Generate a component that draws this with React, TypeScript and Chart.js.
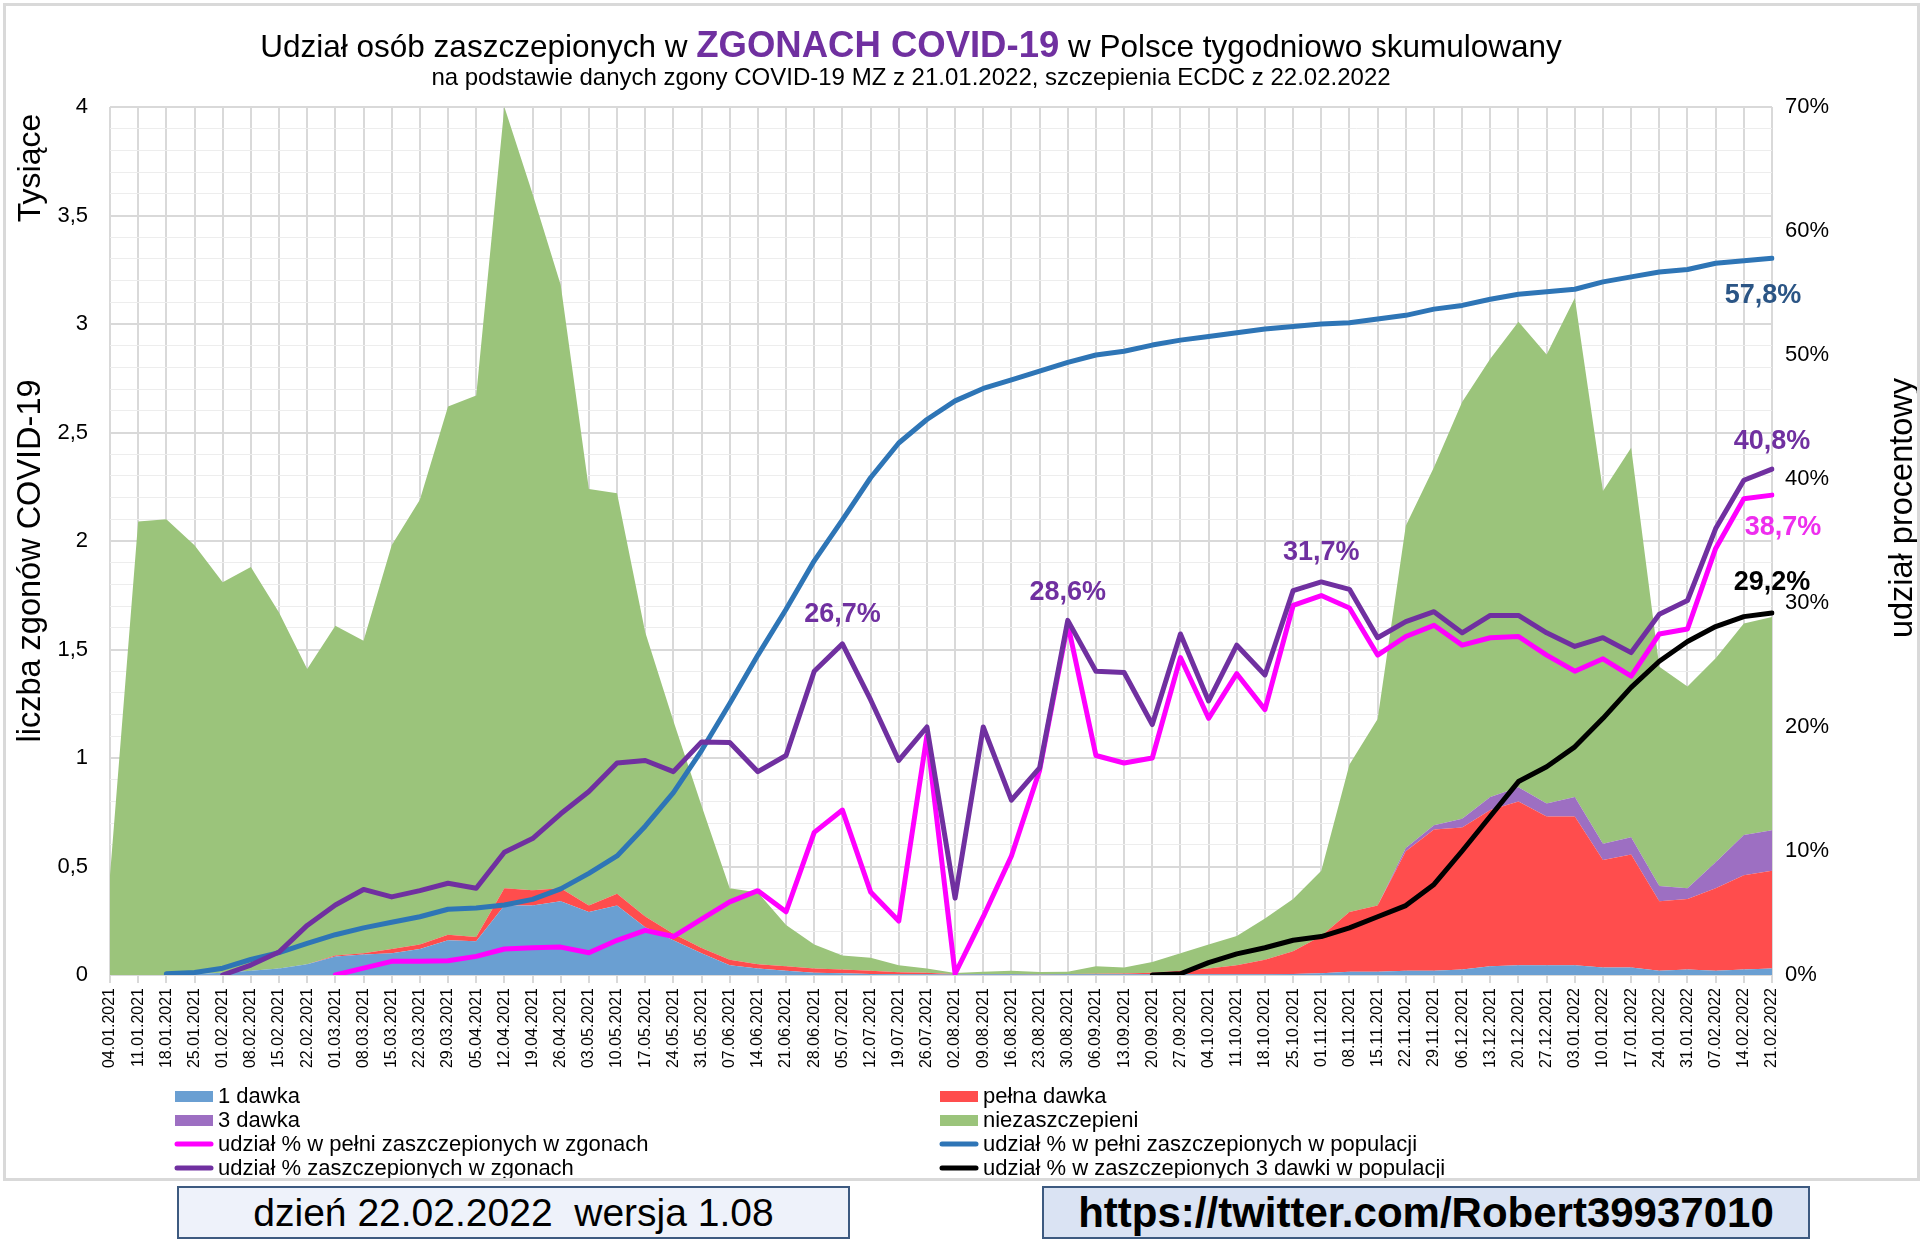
import React, { useEffect, useRef } from "react";
import { Chart, registerables } from "chart.js";

Chart.register(...registerables);

const FONT = '"Liberation Sans", Arial, Helvetica, sans-serif';

// ---------- DATA ----------
const weeks = [
  "04.01.2021", "11.01.2021", "18.01.2021", "25.01.2021", "01.02.2021", "08.02.2021", "15.02.2021", "22.02.2021",
  "01.03.2021", "08.03.2021", "15.03.2021", "22.03.2021", "29.03.2021", "05.04.2021", "12.04.2021", "19.04.2021",
  "26.04.2021", "03.05.2021", "10.05.2021", "17.05.2021", "24.05.2021", "31.05.2021", "07.06.2021", "14.06.2021",
  "21.06.2021", "28.06.2021", "05.07.2021", "12.07.2021", "19.07.2021", "26.07.2021", "02.08.2021", "09.08.2021",
  "16.08.2021", "23.08.2021", "30.08.2021", "06.09.2021", "13.09.2021", "20.09.2021", "27.09.2021", "04.10.2021",
  "11.10.2021", "18.10.2021", "25.10.2021", "01.11.2021", "08.11.2021", "15.11.2021", "22.11.2021", "29.11.2021",
  "06.12.2021", "13.12.2021", "20.12.2021", "27.12.2021", "03.01.2022", "10.01.2022", "17.01.2022", "24.01.2022",
  "31.01.2022", "07.02.2022", "14.02.2022", "21.02.2022",
];

// deaths (thousands), stacked areas
const dawka1 = [
  0, 0, 0, 0.005, 0.01, 0.02, 0.03, 0.05, 0.085, 0.095,
  0.1, 0.12, 0.16, 0.155, 0.32, 0.32, 0.34, 0.29, 0.32, 0.22,
  0.16, 0.1, 0.045, 0.03, 0.02, 0.01, 0.008, 0.005, 0.003, 0.003,
  0.002, 0.003, 0.003, 0.002, 0.003, 0.003, 0.003, 0.003, 0.003, 0.003,
  0.003, 0.003, 0.005, 0.008, 0.015, 0.015, 0.02, 0.02, 0.025, 0.04,
  0.045, 0.045, 0.045, 0.035, 0.035, 0.02, 0.025, 0.02, 0.025, 0.03,
];
const pelnaDawka = [
  0, 0, 0, 0, 0, 0, 0, 0, 0.005, 0.005,
  0.02, 0.02, 0.025, 0.02, 0.08, 0.07, 0.06, 0.03, 0.055, 0.05,
  0.03, 0.025, 0.025, 0.02, 0.02, 0.02, 0.017, 0.015, 0.01, 0.007,
  0.002, 0.002, 0.002, 0.002, 0.002, 0.003, 0.004, 0.007, 0.017, 0.027,
  0.042, 0.067, 0.105, 0.172, 0.275, 0.305, 0.55, 0.65, 0.655, 0.72,
  0.755, 0.685, 0.685, 0.495, 0.52, 0.32, 0.325, 0.38, 0.435, 0.45,
];
const dawka3 = [
  0, 0, 0, 0, 0, 0, 0, 0, 0, 0,
  0, 0, 0, 0, 0, 0, 0, 0, 0, 0,
  0, 0, 0, 0, 0, 0, 0, 0, 0, 0,
  0, 0, 0, 0, 0, 0, 0, 0, 0, 0,
  0, 0, 0, 0, 0, 0, 0.015, 0.02, 0.04, 0.06,
  0.065, 0.06, 0.09, 0.075, 0.08, 0.07, 0.05, 0.12, 0.185, 0.187,
];
const niezaszczepieni = [
  0.46, 2.09, 2.1, 1.975, 1.8, 1.86, 1.64, 1.36, 1.52, 1.44,
  1.86, 2.05, 2.435, 2.495, 3.6, 3.21, 2.78, 1.92, 1.845, 1.31,
  0.98, 0.655, 0.33, 0.33, 0.19, 0.11, 0.065, 0.06, 0.032, 0.02,
  0.005, 0.01, 0.015, 0.01, 0.01, 0.034, 0.028, 0.05, 0.08, 0.11,
  0.135, 0.19, 0.24, 0.3, 0.68, 0.86, 1.485, 1.65, 1.92, 2.02,
  2.145, 2.07, 2.3, 1.625, 1.795, 1.01, 0.93, 0.94, 0.975, 0.983,
];

// percentages (right axis)
const pctPelniZgony = [
  null, null, null, null, null, null, null, null, 0, 0.55,
  1.1, 1.1, 1.15, 1.5, 2.1, 2.2, 2.25, 1.8, 2.8, 3.6,
  3.1, 4.5, 5.9, 6.8, 5.1, 11.5, 13.3, 6.7, 4.35, 19.3,
  0.1, 4.7, 9.6, 16.5, 28.3, 17.7, 17.1, 17.5, 25.6, 20.7,
  24.3, 21.4, 29.8, 30.6, 29.6, 25.8, 27.3, 28.2, 26.6, 27.2,
  27.3, 25.8, 24.5, 25.5, 24.1, 27.5, 27.9, 34.4, 38.4, 38.7,
];
const pctPelniPopulacja = [
  null, null, 0.1, 0.2, 0.55, 1.25, 1.8, 2.55, 3.25, 3.8,
  4.25, 4.7, 5.3, 5.4, 5.65, 6.1, 6.95, 8.2, 9.6, 12.0,
  14.7, 18.1, 21.9, 25.8, 29.5, 33.4, 36.7, 40.1, 42.9, 44.8,
  46.3, 47.3, 48.0, 48.7, 49.4, 50.0, 50.3, 50.8, 51.2, 51.5,
  51.8, 52.1, 52.3, 52.5, 52.6, 52.9, 53.2, 53.7, 54.0, 54.5,
  54.9, 55.1, 55.3, 55.9, 56.3, 56.7, 56.9, 57.4, 57.6, 57.8,
];
const pctZaszczepZgony = [
  null, null, null, null, 0, 0.8, 1.85, 4.0, 5.65, 6.9,
  6.3, 6.8, 7.4, 7.0, 9.9, 11.0, 13.0, 14.8, 17.1, 17.3,
  16.4, 18.8, 18.75, 16.4, 17.7, 24.5, 26.7, 22.2, 17.3, 20.0,
  6.2, 20.0, 14.1, 16.7, 28.6, 24.5, 24.4, 20.2, 27.5, 22.1,
  26.6, 24.2, 31.0, 31.7, 31.1, 27.2, 28.5, 29.3, 27.6, 29.0,
  29.0, 27.6, 26.5, 27.2, 26.0, 29.1, 30.2, 36.0, 39.9, 40.8,
];
const pct3DawkiPopulacja = [
  null, null, null, null, null, null, null, null, null, null,
  null, null, null, null, null, null, null, null, null, null,
  null, null, null, null, null, null, null, null, null, null,
  null, null, null, null, null, null, null, 0, 0.1, 1.0,
  1.7, 2.2, 2.8, 3.1, 3.8, 4.7, 5.6, 7.3, 10.0, 12.8,
  15.6, 16.8, 18.4, 20.7, 23.2, 25.3, 26.9, 28.1, 28.9, 29.2,
];

// which points carry a value label: [dataset index, category index]
const labelledPoints: [number, number][] = [
  [2, 26], [2, 34], [2, 43], [2, 59], [0, 59], [3, 59], [1, 59],
];

// ---------- STYLE ----------
const labelStyle: Record<string, { color: string; dx: number; dy: number }> = {
  "2-26": { color: "#7030A0", dx: 0, dy: -29 },
  "2-34": { color: "#7030A0", dx: 0, dy: -28 },
  "2-43": { color: "#7030A0", dx: 0, dy: -29 },
  "2-59": { color: "#7030A0", dx: 0, dy: -28 },
  "0-59": { color: "#EE2EEE", dx: 11, dy: 32 },
  "3-59": { color: "#000000", dx: 0, dy: -30 },
  "1-59": { color: "#2B5585", dx: -9, dy: 37 },
};

const legendRows: [number, number][] = [
  [4, 5],
  [6, 7],
  [0, 1],
  [2, 3],
];

const fmtPct = (v: number) => v.toFixed(1).replace(".", ",") + "%";

const decorPlugin = {
  id: "decor",
  afterDatasetsDraw(chart: any) {
    const ctx = chart.ctx as CanvasRenderingContext2D;
    const y1 = chart.scales.y1;
    const x = chart.scales.x;
    ctx.save();
    ctx.font = `bold 27px ${FONT}`;
    ctx.textAlign = "center";
    ctx.textBaseline = "middle";
    for (const [di, idx] of labelledPoints) {
      const v = chart.data.datasets[di].data[idx] as number;
      const st = labelStyle[`${di}-${idx}`];
      const px = x.getPixelForValue(idx) + st.dx;
      const py = y1.getPixelForValue(v) + st.dy;
      ctx.fillStyle = st.color;
      ctx.fillText(fmtPct(v), px, py);
    }
    ctx.restore();
  },
  afterDraw(chart: any) {
    const ctx = chart.ctx as CanvasRenderingContext2D;
    ctx.save();
    // Title
    const p1 = "Udział osób zaszczepionych w ";
    const p2 = "ZGONACH COVID-19";
    const p3 = " w Polsce tygodniowo skumulowany";
    const fReg = `31.5px ${FONT}`;
    const fBold = `bold 36.5px ${FONT}`;
    ctx.textBaseline = "alphabetic";
    ctx.textAlign = "left";
    ctx.font = fReg;
    const w1 = ctx.measureText(p1).width;
    const w3 = ctx.measureText(p3).width;
    ctx.font = fBold;
    const w2 = ctx.measureText(p2).width;
    let tx = 911 - (w1 + w2 + w3) / 2;
    const ty = 57;
    ctx.fillStyle = "#000";
    ctx.font = fReg;
    ctx.fillText(p1, tx, ty);
    tx += w1;
    ctx.font = fBold;
    ctx.fillStyle = "#7030A0";
    ctx.fillText(p2, tx, ty);
    tx += w2;
    ctx.font = fReg;
    ctx.fillStyle = "#000";
    ctx.fillText(p3, tx, ty);
    // Subtitle
    ctx.font = `24px ${FONT}`;
    ctx.textAlign = "center";
    ctx.fillText("na podstawie danych zgony COVID-19 MZ z 21.01.2022, szczepienia ECDC z 22.02.2022", 911, 85);

    // Axis titles
    const vText = (t: string, cx: number, cy: number, font: string) => {
      ctx.save();
      ctx.translate(cx, cy);
      ctx.rotate(-Math.PI / 2);
      ctx.font = font;
      ctx.textAlign = "center";
      ctx.textBaseline = "middle";
      ctx.fillStyle = "#000";
      ctx.fillText(t, 0, 0);
      ctx.restore();
    };
    vText("Tysiące", 31, 168, `32px ${FONT}`);
    vText("liczba zgonów COVID-19", 31, 561, `32.5px ${FONT}`);
    vText("udział procentowy", 1903, 508, `32.5px ${FONT}`);

    // Legend
    const colX = [[175, 218], [940, 983]];
    const rowY = [1096, 1120, 1144, 1168];
    ctx.font = `22px ${FONT}`;
    ctx.textAlign = "left";
    ctx.textBaseline = "middle";
    legendRows.forEach((row, r) => {
      row.forEach((di, c) => {
        const ds = chart.data.datasets[di];
        const [mx, tx2] = colX[c];
        const cy = rowY[r];
        if (ds.fill) {
          ctx.fillStyle = ds.backgroundColor;
          ctx.fillRect(mx, cy - 5, 38, 11);
        } else {
          ctx.strokeStyle = ds.borderColor;
          ctx.lineWidth = 5;
          ctx.lineCap = "round";
          ctx.beginPath();
          ctx.moveTo(mx + 2, cy);
          ctx.lineTo(mx + 36, cy);
          ctx.stroke();
        }
        ctx.fillStyle = "#000";
        ctx.fillText(ds.label, tx2, cy + 1);
      });
    });
    ctx.restore();
  },
};

export default function App() {
  const ref = useRef<HTMLCanvasElement>(null);

  useEffect(() => {
    const lineDs = (label: string, data: (number | null)[], color: string, order: number) => ({
      type: "line" as const,
      label,
      data,
      yAxisID: "y1",
      borderColor: color,
      backgroundColor: color,
      borderWidth: 5,
      pointRadius: 0,
      tension: 0,
      fill: false,
      borderJoinStyle: "round" as const,
      borderCapStyle: "round" as const,
      order,
    });
    const areaDs = (label: string, data: number[], color: string, fill: string) => ({
      type: "line" as const,
      label,
      data,
      yAxisID: "y",
      borderColor: "rgba(0,0,0,0)",
      backgroundColor: color,
      borderWidth: 0,
      pointRadius: 0,
      tension: 0,
      fill,
      order: 4,
    });

    const chart = new Chart(ref.current as HTMLCanvasElement, {
      type: "line",
      data: {
        labels: weeks,
        datasets: [
          lineDs("udział % w pełni zaszczepionych w zgonach", pctPelniZgony, "#FF00FF", 3),
          lineDs("udział % w pełni zaszczepionych w populacji", pctPelniPopulacja, "#2E75B6", 2),
          lineDs("udział % zaszczepionych w zgonach", pctZaszczepZgony, "#7030A0", 1),
          lineDs("udział % w zaszczepionych 3 dawki w populacji", pct3DawkiPopulacja, "#000000", 0),
          areaDs("1 dawka", dawka1, "#6A9FD2", "origin"),
          areaDs("pełna dawka", pelnaDawka, "#FF4D4D", "-1"),
          areaDs("3 dawka", dawka3, "#9D6FC2", "-1"),
          areaDs("niezaszczepieni", niezaszczepieni, "#9BC47B", "-1"),
        ] as any,
      },
      options: {
        responsive: false,
        animation: false,
        devicePixelRatio: 1,
        layout: { padding: { top: 107, bottom: 158, left: 0, right: 0 } },
        plugins: {
          legend: { display: false },
          tooltip: { enabled: false },
          title: { display: false },
        },
        scales: {
          x: {
            type: "category",
            offset: false,
            grid: {
              color: "#D9D9D9",
              lineWidth: 2,
              tickLength: 8,
              offset: false,
            },
            border: { color: "#D9D9D9", width: 2 },
            ticks: {
              autoSkip: false,
              maxRotation: 90,
              minRotation: 90,
              padding: 5,
              color: "#000",
              font: { family: FONT, size: 16 },
            },
            afterFit: (s: any) => {
              s.height = 110;
            },
          },
          y: {
            type: "linear",
            position: "left",
            stacked: true,
            min: 0,
            max: 4,
            ticks: {
              stepSize: 0.1,
              autoSkip: false,
              padding: 22,
              color: "#000",
              font: { family: FONT, size: 22 },
              callback: (v: any) => {
                const t = Math.round(Number(v) * 10);
                if (t % 5 !== 0) return "";
                return (t / 10).toString().replace(".", ",");
              },
            },
            grid: {
              drawTicks: false,
              color: (c: any) => (Math.round((c.tick?.value ?? 0) * 10) % 5 === 0 ? "#D9D9D9" : "#EDEDED"),
              lineWidth: (c: any) => (Math.round((c.tick?.value ?? 0) * 10) % 5 === 0 ? 2 : 1),
            },
            border: { display: false },
            afterFit: (s: any) => {
              s.width = 110;
            },
          },
          y1: {
            type: "linear",
            position: "right",
            min: 0,
            max: 70,
            ticks: {
              stepSize: 10,
              autoSkip: false,
              padding: 13,
              color: "#000",
              font: { family: FONT, size: 22 },
              callback: (v: any) => `${v}%`,
            },
            grid: { drawOnChartArea: false, drawTicks: false },
            border: { display: false },
            afterFit: (s: any) => {
              s.width = 154;
            },
          },
        },
      } as any,
      plugins: [decorPlugin],
    });
    return () => chart.destroy();
  }, []);

  const boxBase: React.CSSProperties = {
    position: "absolute",
    top: 1186,
    height: 53,
    boxSizing: "border-box",
    border: "2px solid #3D5A80",
    display: "flex",
    alignItems: "center",
    justifyContent: "center",
    fontFamily: FONT,
    color: "#000",
    whiteSpace: "pre",
  };

  return (
    <div style={{ position: "absolute", left: 0, top: 0, width: 1926, height: 1243, background: "#fff", overflow: "hidden" }}>
      <canvas ref={ref} width={1926} height={1243} style={{ position: "absolute", left: 0, top: 0 }} />
      <div
        style={{
          position: "absolute",
          left: 3,
          top: 3,
          width: 1917,
          height: 1178,
          boxSizing: "border-box",
          border: "3px solid #D9D9D9",
          pointerEvents: "none",
        }}
      />
      <div style={{ ...boxBase, left: 177, width: 673, background: "#EEF2FA", fontSize: 39 }}>
        {"dzień 22.02.2022  wersja 1.08"}
      </div>
      <div style={{ ...boxBase, left: 1042, width: 768, background: "#DAE3F3", fontSize: 42, fontWeight: "bold" }}>
        {"https://twitter.com/Robert39937010"}
      </div>
    </div>
  );
}
